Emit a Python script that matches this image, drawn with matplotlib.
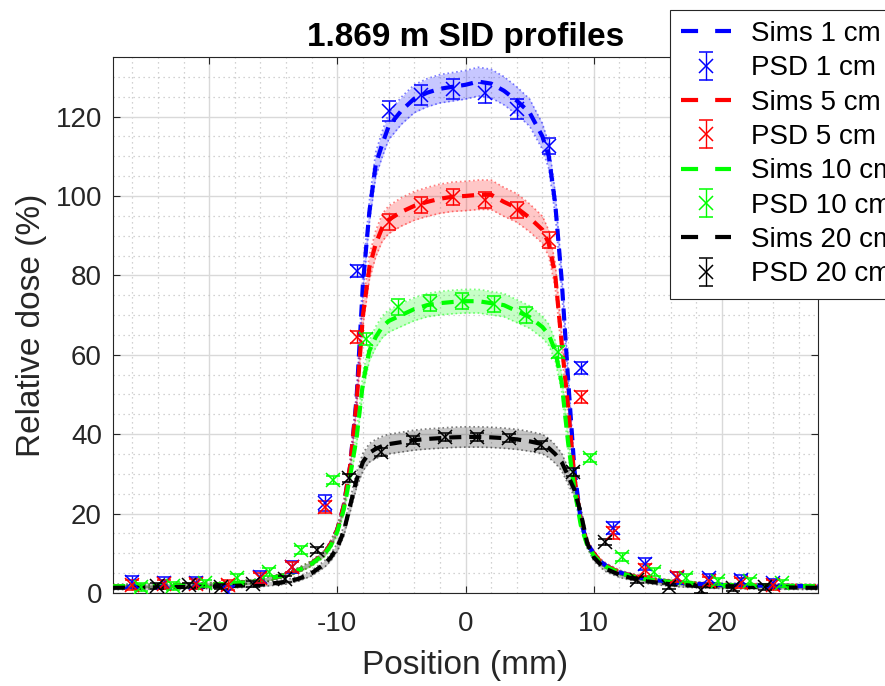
# Profils de dose a 1.869 m SID : simulations vs PSD
import numpy as np
import matplotlib.pyplot as plt
from matplotlib.lines import Line2D
from matplotlib.ticker import MultipleLocator

plt.rcParams['font.family'] = ['Liberation Sans', 'DejaVu Sans']
plt.rcParams['axes.unicode_minus'] = False

# Simulations (position en mm, dose relative en %)
sim_x = [-27.5, -25, -22.5, -20, -18, -16, -14, -13, -12, -11,
         -10.5, -10, -9.5, -9, -8.5, -8, -7.5, -7, -6.5, -6,
         -5, -4, -3, -2, -1, 0, 1, 2, 3, 4,
         5, 6, 6.5, 7, 7.5, 8, 8.5, 9, 9.5, 10,
         10.5, 11, 12, 13, 14, 16, 18, 20, 22.5, 25, 27.5]

sim_1cm = [1.7, 1.8, 1.9, 2.1, 2.4, 3.1, 4.6, 5.8, 7.5, 10,
           12.5, 16, 22, 32, 49, 78, 96, 108, 113, 117.5,
           121.5, 124.5, 126, 127, 127.5, 128, 128.8, 128.3, 126.5, 124,
           121, 115, 110, 98, 79, 54, 31, 18, 12.5, 10,
           8, 6.8, 5.2, 4.3, 3.6, 2.8, 2.3, 2.0, 1.9, 1.8, 1.7]

sim_5cm = [1.7, 1.8, 1.9, 2.1, 2.4, 3.1, 4.6, 5.8, 7.5, 10,
           12.5, 16, 22, 32, 48, 70, 82, 88, 92, 94,
           96, 97.5, 98.5, 99.3, 99.8, 100, 100.3, 100.3, 98.5, 97,
           94.5, 91.5, 88, 80, 63, 47, 29, 18, 12.5, 10,
           8, 6.8, 5.2, 4.3, 3.6, 2.8, 2.3, 2.0, 1.9, 1.8, 1.7]

sim_10cm = [1.7, 1.8, 1.9, 2.1, 2.4, 3.1, 4.6, 5.8, 7.4, 9.8,
            12, 15.5, 21, 29.5, 39, 53, 61, 64.5, 67, 68.5,
            70, 71.5, 72.5, 73, 73.3, 73.5, 73.5, 73, 72.5, 71,
            69.5, 67, 65, 61, 53, 38, 26, 17, 12, 9.5,
            7.8, 6.6, 5.1, 4.2, 3.5, 2.8, 2.3, 2.0, 1.9, 1.8, 1.7]

sim_20cm = [1.3, 1.4, 1.5, 1.6, 1.8, 2.1, 2.8, 3.6, 5.0, 7.3,
            9, 11.5, 15.5, 22, 28.5, 33, 35.3, 36.3, 37, 37.5,
            38, 38.5, 38.8, 39, 39.2, 39.3, 39.3, 39.2, 39, 38.7,
            38.2, 37.5, 36.5, 35, 33, 29.5, 26, 20, 12.5, 9,
            7.3, 6, 4.6, 3.7, 3.0, 2.2, 1.8, 1.6, 1.5, 1.4, 1.3]

# Largeur relative de la bande d'incertitude des simulations
band_rel = [0.025, 0.033, 0.035, 0.055]

# Mesures PSD
psd_x_1cm = [-26, -23.5, -21, -18.5, -16, -13.5, -11, -8.5, -6, -3.5, -1,
             1.5, 4, 6.5, 9, 11.5, 14, 16.5, 19, 21.5, 24]
psd_1cm = [2.8, 2.5, 2.6, 0.3, 4.1, 6.6, 22.7, 81, 121.5, 125.5, 127,
           126, 122, 112.5, 56.7, 16.3, 7.2, 3.8, 3.7, 3.4, 2.4]
err_1cm = [1.5, 1.5, 1.5, 1.5, 1.5, 1.5, 2, 1.5, 2.5, 2.5, 2.5,
           2.5, 2.5, 2, 1.5, 1.5, 1.5, 1.5, 1.2, 1.2, 1.2]

psd_x_5cm = psd_x_1cm
psd_5cm = [2.0, 2.2, 2.3, 2.0, 3.8, 6.5, 21.7, 64.5, 93.5, 97.7, 99.7,
           99, 96.5, 89, 49.4, 15, 5.8, 4.0, 2.9, 2.5, 2.0]
err_5cm = [1.2, 1.2, 1.2, 1.2, 1.2, 1.2, 1.5, 1.5, 2, 2, 2,
           2, 2, 2, 1.5, 1.5, 1.5, 1.2, 1.2, 1.2, 1.2]

psd_x_10cm = [-25.3, -22.8, -20.3, -17.8, -15.3, -12.8, -10.3, -7.8, -5.3,
              -2.8, -0.3, 2.2, 4.7, 7.2, 9.7, 12.2, 14.7, 17.2, 19.7, 22.2, 24.7]
psd_10cm = [1.6, 1.8, 2.4, 3.7, 5.4, 10.8, 28.5, 64, 72, 73, 73.5,
            72.8, 70, 60.8, 33.9, 9.1, 5.4, 3.7, 2.9, 2.9, 2.4]
err_10cm = [1, 1, 1, 1, 1, 1, 1, 1.5, 2, 2, 2,
            2, 2, 1.5, 1, 1, 1, 1, 1, 1, 1]

psd_x_20cm = [-24.1, -21.6, -19.1, -16.6, -14.1, -11.6, -9.1, -6.6, -4.1,
              -1.6, 0.9, 3.4, 5.9, 8.4, 10.9, 13.4, 15.9, 18.4, 20.9, 23.4]
psd_20cm = [1.8, 1.9, 1.6, 2.2, 3.5, 10.8, 28.9, 35.6, 38.5, 39.2, 39.2,
            39, 37.3, 30.4, 12.9, 3.3, 1.6, 0.8, 1.2, 1.5]
err_20cm = [0.7, 0.7, 0.7, 0.7, 0.7, 0.8, 1, 1, 1, 1, 1,
            1, 1, 1, 0.8, 0.7, 0.7, 0.7, 0.7, 0.7]

labels = ['1 cm', '5 cm', '10 cm', '20 cm']
couleurs = ['#0000ff', '#ff0000', '#00ff00', '#000000']

sims = [sim_1cm, sim_5cm, sim_10cm, sim_20cm]
psd_x = [psd_x_1cm, psd_x_5cm, psd_x_10cm, psd_x_20cm]
psd_y = [psd_1cm, psd_5cm, psd_10cm, psd_20cm]
psd_e = [err_1cm, err_5cm, err_10cm, err_20cm]

fig = plt.figure(figsize=(8.85, 6.86), dpi=100)
ax = fig.add_axes([113/885, 1-593/686, 705/885, 536/686])

handles = []
for i in range(4):
    c = couleurs[i]
    s = np.array(sims[i])
    lo = s * (1 - band_rel[i]) - 0.4
    hi = s * (1 + band_rel[i]) + 0.4
    ax.fill_between(sim_x, lo, hi, color=c, alpha=0.22, lw=0, zorder=2)
    ax.plot(sim_x, lo, ':', color=c, lw=1.2, alpha=0.5, zorder=2)
    ax.plot(sim_x, hi, ':', color=c, lw=1.2, alpha=0.5, zorder=2)
    ax.plot(sim_x, s, color=c, lw=3, dashes=(2.9, 1.9), zorder=3)

for i in range(4):
    c = couleurs[i]
    eb = ax.errorbar(psd_x[i], psd_y[i], yerr=psd_e[i], fmt='x', color=c,
                     ms=10, mew=1.1, capsize=5, elinewidth=1, capthick=1, zorder=4)
    h_sim = Line2D([], [], color=c, lw=3, dashes=(4.1, 4.1))
    handles += [h_sim, eb]

noms = []
for lab in labels:
    noms += ['Sims ' + lab, 'PSD ' + lab]

ax.set_xlim(-27.5, 27.5)
ax.set_ylim(0, 135)
ax.set_xticks([-20, -10, 0, 10, 20])
ax.set_yticks(np.arange(0, 121, 20))
ax.xaxis.set_minor_locator(MultipleLocator(2))
ax.yaxis.set_minor_locator(MultipleLocator(5))
ax.set_axisbelow(True)
ax.grid(which='major', color='#d9d9d9', lw=1, ls='-')
ax.grid(which='minor', color='#c4c4c4', lw=0.9, ls=(0, (1, 3)))
ax.tick_params(which='major', direction='in', top=True, right=True, length=5,
               labelsize=20, colors='#262626')
ax.tick_params(axis='x', which='major', pad=13)
ax.tick_params(axis='y', which='major', pad=8)
ax.tick_params(which='minor', length=0)
for sp in ax.spines.values():
    sp.set_color('#262626')
    sp.set_linewidth(0.8)

ax.set_xlabel('Position (mm)', fontsize=24, color='#262626', labelpad=9)
ax.set_ylabel('Relative dose (%)', fontsize=24, color='#262626', labelpad=6)
ax.set_title('1.869 m SID profiles', fontsize=24, fontweight='bold', pad=8)

leg = fig.legend(handles, noms, loc='upper left',
                 bbox_to_anchor=(670/885, 1 - 10/686), bbox_transform=fig.transFigure,
                 fontsize=20, frameon=True, fancybox=False, framealpha=1,
                 edgecolor='#262626', handlelength=1.8, handletextpad=0.7,
                 labelspacing=0.3, borderpad=0.4, borderaxespad=0)
leg.get_frame().set_linewidth(0.8)

plt.savefig('out.png', dpi=100)
